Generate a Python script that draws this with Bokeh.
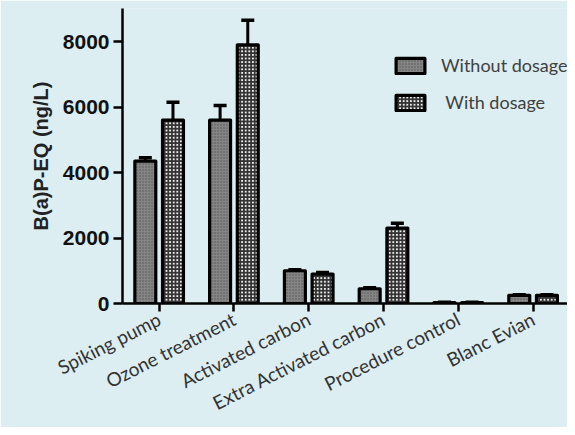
from bokeh.plotting import figure
from bokeh.models import (ColumnDataSource, Range1d, FixedTicker, Whisker, TeeHead,
                          Legend, LegendItem, Title)
from bokeh.embed import file_html
from bokeh.resources import INLINE

categories = ["Spiking pump", "Ozone treatment", "Activated carbon",
              "Extra Activated carbon", "Procedure control", "Blanc Evian"]
without_mean = [4350, 5600, 1000, 450, 30, 250]
without_upper = [4450, 6050, 1030, 480, 35, 270]
with_mean = [5600, 7900, 900, 2300, 30, 250]
with_upper = [6150, 8650, 950, 2450, 35, 270]
y_ticks = [0, 2000, 4000, 6000, 8000]
y_title = "B(a)P-EQ (ng/L)"

BG = "#dceef1"
idx = list(range(len(categories)))
off = 0.185
bw = 0.28

src_wo = ColumnDataSource(dict(x=[i - off for i in idx], top=without_mean, up=without_upper))
src_w = ColumnDataSource(dict(x=[i + off for i in idx], top=with_mean, up=with_upper))

p = figure(width=567, height=427, output_backend="svg", toolbar_location=None,
           x_range=Range1d(-0.49, 5.46), y_range=Range1d(0, 9010),
           min_border_left=122, min_border_right=0, min_border_top=8, min_border_bottom=123,
           background_fill_color=BG, border_fill_color=BG)
p.outline_line_color = None
p.grid.visible = False

r1 = p.vbar(x="x", top="top", width=bw, bottom=0, source=src_wo,
            fill_color="#858585", hatch_pattern="dot", hatch_color="#555555", hatch_scale=3,
            line_color="black", line_width=3.2, line_join="round")
r2 = p.vbar(x="x", top="top", width=bw, bottom=0, source=src_w,
            fill_color="#eeeeee", hatch_pattern="cross", hatch_color="#353535", hatch_scale=3.6, hatch_weight=2,
            line_color="black", line_width=3.2, line_join="round")

for s in (src_wo, src_w):
    w = Whisker(source=s, base="x", upper="up", lower="top", dimension="height",
                line_width=3, line_color="black",
                upper_head=TeeHead(size=13, line_width=3.5, line_color="black"), lower_head=None)
    p.add_layout(w)

xa = p.xaxis[0]
xa.ticker = FixedTicker(ticks=idx)
xa.major_label_overrides = {i: c for i, c in zip(idx, categories)}
xa.major_label_orientation = 0.47
xa.major_label_text_font = "Lato"
xa.major_label_text_font_size = "19px"
xa.major_label_text_color = "#333333"
xa.axis_line_width = 2.5
xa.major_tick_line_width = 2.5
xa.major_tick_out = 8
xa.major_tick_in = 0
xa.minor_tick_line_color = None
xa.major_label_standoff = 6

ya = p.yaxis[0]
ya.ticker = FixedTicker(ticks=y_ticks)
ya.major_label_text_font = "Liberation Sans"
ya.major_label_text_font_style = "bold"
ya.major_label_text_font_size = "21px"
ya.major_label_text_color = "#111111"
ya.axis_line_width = 2.5
ya.major_tick_line_width = 2.5
ya.major_tick_out = 9
ya.major_tick_in = 0
ya.minor_tick_line_color = None
ya.major_label_standoff = 4

p.add_layout(Title(text=y_title, align="center", offset=13, standoff=16,
                   text_font="Liberation Sans", text_font_style="bold",
                   text_font_size="20px", text_color="#222222"), "left")

legend = Legend(items=[LegendItem(label="Without dosage", renderers=[r1]),
                       LegendItem(label=" With dosage", renderers=[r2])],
                location=(270, 190), glyph_width=36, glyph_height=19, spacing=15,
                padding=0, margin=0, border_line_color=None, background_fill_alpha=0,
                label_standoff=13, label_text_font="Lato", label_text_font_size="18px",
                label_text_color="#404040", label_height=19)
p.add_layout(legend)

open("out.html", "w").write(file_html(p, INLINE))
